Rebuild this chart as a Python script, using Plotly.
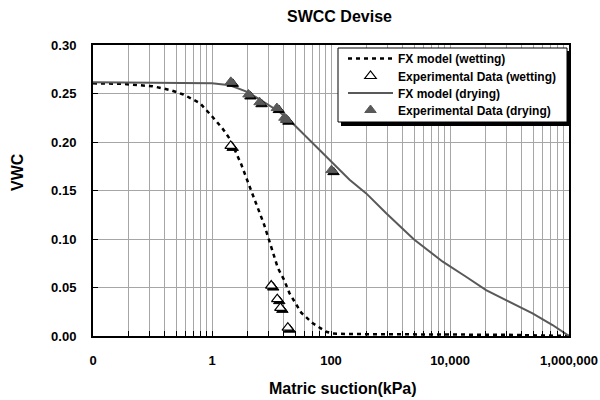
import plotly.graph_objects as go

# ---------------- data ----------------
wet_model_x = [0.01, 0.03, 0.1, 0.2, 0.33, 0.63, 1.0, 1.5, 2.0, 2.6, 3.1, 4.2, 5.3, 6.3, 7.4,
               8.9, 12.8, 16.1, 20.1, 31.6, 49.5, 83, 107, 200, 1000, 1e4, 1e5, 1e6]
wet_model_y = [0.2605, 0.2600, 0.2575, 0.2535, 0.2490, 0.2400, 0.2265, 0.2140, 0.2030, 0.1885,
               0.1770, 0.1555, 0.1400, 0.1280, 0.1160, 0.1007, 0.0700, 0.0584, 0.0440, 0.0240,
               0.0131, 0.0044, 0.0025, 0.0020, 0.0018, 0.0016, 0.0012, 0.0]

wet_exp_x = [2.06, 9.9, 12.5, 14.1, 18.8]
wet_exp_y = [0.196, 0.052, 0.038, 0.029, 0.0086]

dry_model_x = [0.01, 0.37, 1.0, 2.0, 3.8, 6.3, 13.7, 22.9, 50, 108, 205, 391, 847, 2460,
               7550, 18600, 40400, 90800, 244000, 529000, 1e6]
dry_model_y = [0.2615, 0.2612, 0.2605, 0.2585, 0.2520, 0.2440, 0.2310, 0.2190, 0.1987, 0.1780,
               0.1610, 0.1470, 0.1265, 0.0997, 0.0766, 0.0611, 0.0474, 0.0364, 0.0234, 0.0113, 0.0]

dry_exp_x = [2.07, 4.1, 6.3, 12.3, 16.5, 17.8, 102]
dry_exp_y = [0.262, 0.249, 0.241, 0.235, 0.225, 0.223, 0.171]

x_tick_vals = [0.01, 1, 100, 1e4, 1e6]
x_tick_text = ["0", "1", "100", "10,000", "1,000,000"]

# ---------------- geometry helpers ----------------
W, H = 600, 400
L, R, T, B = 93, 569, 45, 336          # plot area in pixels
XR = [-2, 6]
YR = [0, 0.30]
px_per_dec = (R - L) / (XR[1] - XR[0])
val_per_px = (YR[1] - YR[0]) / (B - T)


def pxx(p):
    return (p - L) / (R - L)


def pxy(p):
    return (B - p) / (B - T)


FONT = "Liberation Sans, Arial, sans-serif"
minor_vals = [m * k * k for m in x_tick_vals[:-1] for k in range(2, 10)]

fig = go.Figure()

# wetting model (dashed)
fig.add_trace(go.Scatter(x=wet_model_x, y=wet_model_y, mode="lines",
                         name="FX model (wetting)", legend="legend",
                         line=dict(color="black", width=2.5, dash="4px,4px")))
# wetting exp shadow
fig.add_trace(go.Scatter(x=wet_exp_x, y=wet_exp_y, mode="markers", showlegend=False,
                         xaxis="x2", yaxis="y2", hoverinfo="skip",
                         marker=dict(symbol="triangle-up", size=10, color="black",
                                     line=dict(width=1, color="black"))))
# wetting exp
fig.add_trace(go.Scatter(x=wet_exp_x, y=wet_exp_y, mode="markers",
                         name="Experimental Data (wetting)", xaxis="x3", yaxis="y3",
                         legend="legend2",
                         marker=dict(symbol="triangle-up", size=10, color="white",
                                     line=dict(width=1.2, color="black"))))
# drying model (solid)
fig.add_trace(go.Scatter(x=dry_model_x, y=dry_model_y, mode="lines",
                         name="FX model (drying)", legend="legend3",
                         line=dict(color="#595959", width=2)))
# drying exp shadow
fig.add_trace(go.Scatter(x=dry_exp_x, y=dry_exp_y, mode="markers", showlegend=False,
                         xaxis="x2", yaxis="y2", hoverinfo="skip",
                         marker=dict(symbol="triangle-up", size=10, color="black",
                                     line=dict(width=1, color="black"))))
# drying exp
fig.add_trace(go.Scatter(x=dry_exp_x, y=dry_exp_y, mode="markers",
                         name="Experimental Data (drying)", xaxis="x3", yaxis="y3",
                         legend="legend4",
                         marker=dict(symbol="triangle-up", size=10, color="#595959",
                                     line=dict(width=1, color="#595959"))))

grid = "#a6a6a6"
sx = 2 / px_per_dec
sy = 2 * val_per_px

leg_font = dict(family=FONT, size=12, color="black", weight="bold")


def leg(row_y):
    return dict(x=pxx(343), y=pxy(row_y), xanchor="left", yanchor="middle",
                bgcolor="rgba(0,0,0,0)", borderwidth=0, itemwidth=45, font=leg_font)


fig.update_layout(
    width=W, height=H, autosize=False,
    margin=dict(l=L, r=W - R, t=T, b=H - B, autoexpand=False),
    paper_bgcolor="white", plot_bgcolor="white",
    font=dict(family=FONT, size=13, color="black", weight="bold"),
    showlegend=True,
    legend=leg(58.5), legend2=leg(76), legend3=leg(93), legend4=leg(110),
    xaxis=dict(type="log", range=XR, tickvals=x_tick_vals, ticktext=x_tick_text,
               automargin=False,
               ticks="inside", ticklen=5, tickcolor="black", tickwidth=1,
               showgrid=True, gridcolor=grid, gridwidth=1,
               showline=True, linecolor="black", linewidth=2, mirror=True,
               tickfont=dict(family=FONT, size=13, color="black", weight="bold"),
               ticklabelstandoff=11, zeroline=False,
               minor=dict(tickmode="array", tickvals=minor_vals, ticks="inside",
                          ticklen=5, tickcolor="black", showgrid=True,
                          gridcolor=grid, gridwidth=1)),
    yaxis=dict(range=YR, dtick=0.05, tick0=0, tickformat=".2f",
               automargin=False,
               ticks="inside", ticklen=5, tickcolor="black",
               showgrid=True, gridcolor=grid, gridwidth=1,
               showline=True, linecolor="black", linewidth=2, mirror=True,
               tickfont=dict(family=FONT, size=13, color="black", weight="bold"),
               ticklabelstandoff=12, zeroline=False),
    xaxis2=dict(type="log", range=[XR[0] - sx, XR[1] - sx], overlaying="x",
                anchor="y2", visible=False, automargin=False),
    yaxis2=dict(range=[YR[0] + sy, YR[1] + sy], overlaying="y", anchor="x2",
                visible=False, automargin=False),
    xaxis3=dict(type="log", range=XR, overlaying="x", anchor="y3", visible=False,
                automargin=False),
    yaxis3=dict(range=YR, overlaying="y", anchor="x3", visible=False, automargin=False),
    shapes=[
        dict(type="rect", xref="paper", yref="paper", layer="above",
             x0=pxx(341), x1=pxx(570), y0=pxy(126), y1=pxy(51),
             fillcolor="black", line=dict(width=0)),
        dict(type="rect", xref="paper", yref="paper", layer="above",
             x0=pxx(338), x1=pxx(567), y0=pxy(122), y1=pxy(48),
             fillcolor="white", line=dict(width=1, color="black")),
    ],
    annotations=[
        dict(text="SWCC Devise", xref="paper", yref="paper", x=pxx(339), y=pxy(17),
             xanchor="center", yanchor="middle", showarrow=False,
             font=dict(family=FONT, size=16, color="black", weight="bold")),
        dict(text="Matric suction(kPa)", xref="paper", yref="paper", x=pxx(343), y=pxy(388),
             xanchor="center", yanchor="middle", showarrow=False,
             font=dict(family=FONT, size=16, color="black", weight="bold")),
        dict(text="VWC", xref="paper", yref="paper", x=pxx(17), y=pxy(172),
             xanchor="center", yanchor="middle", showarrow=False, textangle=-90,
             font=dict(family=FONT, size=16, color="black", weight="bold")),
    ],
)

fig.write_html("out.html", config={"displayModeBar": False},
               post_script="document.body.style.margin='0';")
